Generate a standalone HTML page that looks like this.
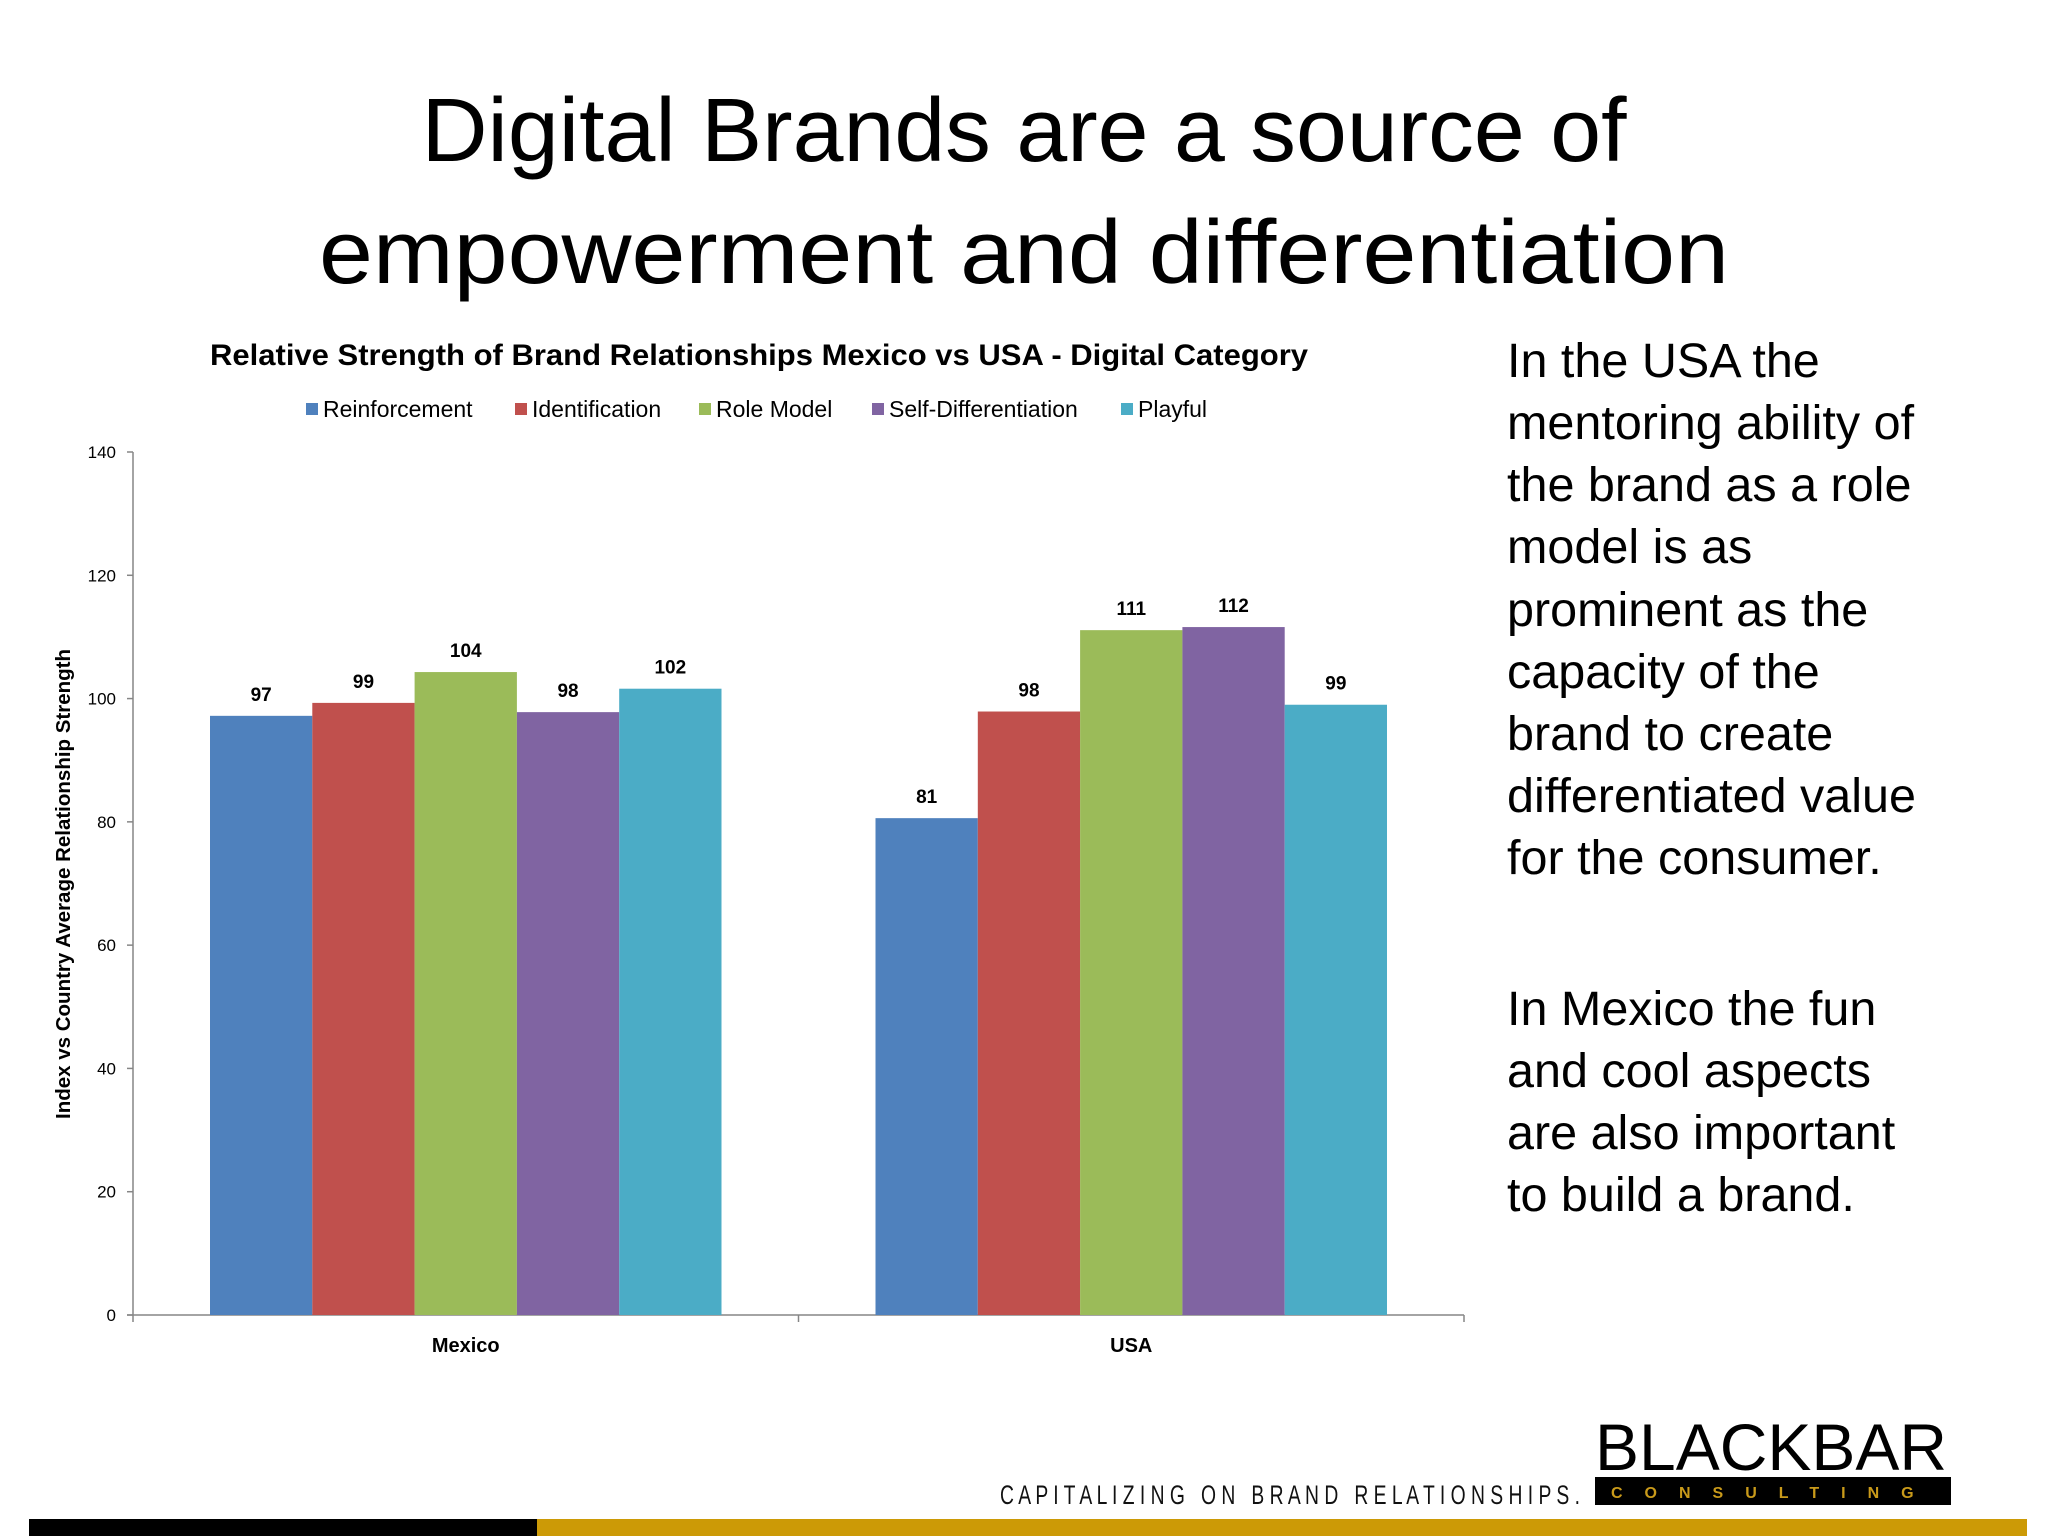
<!DOCTYPE html>
<html><head><meta charset="utf-8"><style>
html,body{margin:0;padding:0;background:#fff;}
svg{display:block;font-family:"Liberation Sans",sans-serif;}
</style></head><body>
<svg id="s" width="2048" height="1536" viewBox="0 0 2048 1536">
<text x="1024" y="161" text-anchor="middle" font-size="90" textLength="1205" lengthAdjust="spacingAndGlyphs" fill="#000">Digital Brands are a source of</text>
<text x="1024" y="283" text-anchor="middle" font-size="90" textLength="1410" lengthAdjust="spacingAndGlyphs" fill="#000">empowerment and differentiation</text>
<text x="759" y="365" text-anchor="middle" font-size="30" font-weight="bold" textLength="1098" lengthAdjust="spacingAndGlyphs" fill="#000">Relative Strength of Brand Relationships Mexico vs USA -  Digital Category</text>
<g id="legend"></g>
<g id="chart"></g>
<text transform="translate(70,884) rotate(-90)" text-anchor="middle" font-size="20" font-weight="bold" textLength="470" lengthAdjust="spacingAndGlyphs" fill="#000">Index vs Country Average Relationship Strength</text>
<g font-size="48.5" fill="#000">
<text x="1507" y="377">In the USA the</text>
<text x="1507" y="439">mentoring ability of</text>
<text x="1507" y="501">the brand as a role</text>
<text x="1507" y="563">model is as</text>
<text x="1507" y="626">prominent as the</text>
<text x="1507" y="688">capacity of the</text>
<text x="1507" y="750">brand to create</text>
<text x="1507" y="812">differentiated value</text>
<text x="1507" y="874">for the consumer.</text>
<text x="1507" y="1025">In Mexico the fun</text>
<text x="1507" y="1087">and cool aspects</text>
<text x="1507" y="1149">are also important</text>
<text x="1507" y="1211">to build a brand.</text>
</g>
<text x="1000" y="1504" font-size="27" textLength="580" lengthAdjust="spacingAndGlyphs" style="white-space:pre" font-family="Liberation Sans Narrow, Liberation Sans, sans-serif" fill="#111">C A P I T A L I Z I N G   O N   B R A N D   R E L A T I O N S H I P S .</text>
<text x="1595" y="1470" font-size="66" textLength="352" lengthAdjust="spacingAndGlyphs" fill="#000">BLACKBAR</text>
<rect x="1595" y="1477" width="356" height="28" fill="#000"/>
<text x="1611" y="1498" font-size="16" font-weight="bold" letter-spacing="22" fill="#c99a1a">CONSULTING</text>
<rect x="29" y="1519" width="508" height="17" fill="#000"/>
<rect x="537" y="1519" width="1490" height="17" fill="#cc9a06"/>
</svg>
<script>
const categories=["Mexico","USA"];
const seriesNames=["Reinforcement","Identification","Role Model","Self-Differentiation","Playful"];
const mexicoValues=[97.2,99.3,104.3,97.8,101.6];
const usaValues=[80.6,97.9,111.1,111.6,99.0];
const mexicoLabels=["97","99","104","98","102"];
const usaLabels=["81","98","111","112","99"];
const yTicks=[0,20,40,60,80,100,120,140];
const colors=["#4F81BD","#C0504D","#9BBB59","#8064A2","#4BACC6"];
const NS="http://www.w3.org/2000/svg";
const X0=133,X1=1464,Y0=1315,YTOP=452,YMAX=140;
const y=v=>Y0-(v/YMAX)*(Y0-YTOP);
const catW=(X1-X0)/categories.length;
const barW=102.3;
const chart=document.getElementById('chart');
function mk(tag,attrs,parent){const e=document.createElementNS(NS,tag);for(const k in attrs)e.setAttribute(k,attrs[k]);parent.appendChild(e);return e;}
let ax=mk('line',{x1:X0,y1:YTOP,x2:X0,y2:Y0,stroke:'#868686','stroke-width':1.5},chart);


let bx=mk('line',{x1:X0-6,y1:Y0,x2:X1,y2:Y0,stroke:'#868686','stroke-width':1.5},chart);


yTicks.forEach(t=>{
 let tk=mk('line',{x1:X0-6,y1:y(t),x2:X0,y2:y(t),stroke:'#868686','stroke-width':1.5},chart);
 
 
 let tl=mk('text',{x:X0-17,y:y(t)+6,'text-anchor':'end','font-size':17,fill:'#000'},chart);
 tl.textContent=t;
 
 
});
for(let i=0;i<=categories.length;i++){
 let tk=mk('line',{x1:X0+i*catW,y1:Y0,x2:X0+i*catW,y2:Y0+7,stroke:'#868686','stroke-width':1.5},chart);
 
 
}
const allVals=[mexicoValues,usaValues],allLabs=[mexicoLabels,usaLabels];
categories.forEach((c,ci)=>{
 const cx=X0+catW*(ci+0.5);
 const start=cx-barW*seriesNames.length/2;
 allVals[ci].forEach((v,si)=>{
  let r=mk('rect',{x:start+si*barW,y:y(v),width:barW,height:Y0-y(v),fill:colors[si]},chart);
  
  
  let l=mk('text',{x:start+si*barW+barW/2,y:y(v)-15,'text-anchor':'middle','font-size':19,'font-weight':'bold',fill:'#000'},chart);
  l.textContent=allLabs[ci][si];
  
  
 });
 let cl=mk('text',{x:cx,y:1352,'text-anchor':'middle','font-size':20,'font-weight':'bold',fill:'#000'},chart);
 cl.textContent=c;
 
 
});
const lg=document.getElementById('legend');
const lx=[306,515,699,872,1121];
seriesNames.forEach((n,i)=>{
 let sw=mk('rect',{x:lx[i],y:403,width:12,height:12,fill:colors[i]},lg);
 
 
 let t=mk('text',{x:lx[i]+17,y:417,'font-size':23,fill:'#000'},lg);
 t.textContent=n;
 
 
});
</script>
</body></html>
